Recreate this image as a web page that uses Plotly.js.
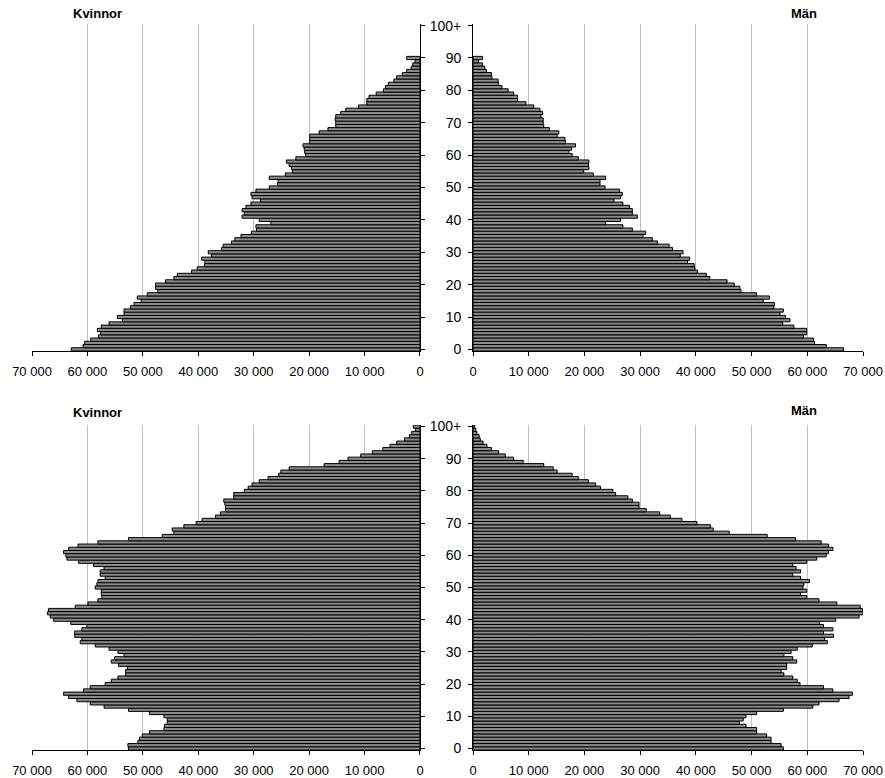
<!DOCTYPE html>
<html>
<head>
<meta charset="utf-8">
<script src="https://cdn.plot.ly/plotly-3.0.1.min.js"></script>
<style>
html,body{margin:0;padding:0;background:#fff;}
#chart{width:885px;height:778px;}
</style>
</head>
<body>
<div id="chart"></div>
<script>
// Ages (categories)
var agesTop = [0,1,2,3,4,5,6,7,8,9,10,11,12,13,14,15,16,17,18,19,20,21,22,23,24,25,26,27,28,29,30,31,32,33,34,35,36,37,38,39,40,41,42,43,44,45,46,47,48,49,50,51,52,53,54,55,56,57,58,59,60,61,62,63,64,65,66,67,68,69,70,71,72,73,74,75,76,77,78,79,80,81,82,83,84,85,86,87,88,89,90];
var agesBottom = [0,1,2,3,4,5,6,7,8,9,10,11,12,13,14,15,16,17,18,19,20,21,22,23,24,25,26,27,28,29,30,31,32,33,34,35,36,37,38,39,40,41,42,43,44,45,46,47,48,49,50,51,52,53,54,55,56,57,58,59,60,61,62,63,64,65,66,67,68,69,70,71,72,73,74,75,76,77,78,79,80,81,82,83,84,85,86,87,88,89,90,91,92,93,94,95,96,97,98,99,100];

// Top pyramid, ages 0..90
var topWomen = [62900,60800,60500,59400,58000,57600,58200,57500,56100,53700,
  54600,53400,53400,52200,51600,50300,51000,49200,47300,47700,
  47700,45900,44400,43800,41200,40200,38900,38800,39400,37600,
  38200,35800,35500,34000,33400,32300,30400,29500,29600,26900,
  29000,32100,31700,32100,31400,30500,28800,30300,30500,29600,
  27200,25700,25600,27200,24300,23000,23200,23600,24100,22400,
  20600,20800,20900,21100,19900,19900,19900,18200,16600,15200,
  15200,15300,15200,14300,13400,11100,9600,9600,9200,7900,
  6600,6200,5700,4700,4200,3200,2400,1600,1300,900,
  2400];
var topMen = [66500,63400,61300,61100,59300,59900,59900,57600,55600,56900,
  56100,55100,55700,54000,54100,52100,53200,50900,48100,47900,
  46900,45600,42500,41900,40300,39800,39700,38500,38900,37200,
  37700,35800,35200,33100,32200,30500,31000,28600,26900,23800,
  26500,29500,28600,28600,28100,26900,25300,26500,26800,26300,
  23700,22800,22800,23800,21600,19800,20800,20700,20800,18900,
  17800,17200,17700,18400,16600,16500,15100,15400,13700,12700,
  12600,12600,12200,12500,12000,10900,9500,8000,8000,7300,
  6300,5200,4600,4500,3400,3300,2400,2100,1700,1000,
  1700];

// Bottom pyramid, ages 0..100+
var bottomWomen = [52600,52700,50900,50600,50100,48800,46200,46100,45600,45600,
  46200,48800,52600,57000,59500,61900,63400,64300,60700,59500,
  56800,55700,54500,53100,53100,52800,54400,55700,55100,53400,
  54500,56100,58600,61300,61000,62300,62300,61000,60100,63000,
  66100,66700,67200,67000,62200,59900,58100,57400,57500,57500,
  58600,58300,58100,56800,57700,57700,57000,58900,61600,63700,
  63900,64300,63400,61700,58100,52600,46500,44400,44700,42600,
  40400,39300,36900,36000,35100,35100,35200,35400,33600,33600,
  31700,31000,30300,29000,27400,25500,25100,23600,17300,14600,
  13000,10700,8600,6700,5400,4200,2800,1900,1500,800,
  1200];
var bottomMen = [55700,55300,53500,53500,52700,50900,50900,49000,47800,48500,
  49000,50900,55700,61000,62100,65700,67500,68100,64600,62900,
  58700,58200,57400,55800,55300,56300,56300,58100,57400,55800,
  57100,58200,60900,63600,63100,64700,62900,64600,62900,62200,
  65100,69300,70000,69900,69500,65300,62100,59900,58800,59900,
  59200,59400,60400,58800,57400,58800,58000,57400,59900,61700,
  63400,63800,64600,63800,62500,57900,52800,46000,43100,42600,
  40200,37500,35400,33500,31100,29800,29800,28600,27800,25600,
  25100,22900,22000,20700,18900,17800,15100,14400,12700,9000,
  7300,5800,4600,3300,2500,1800,1300,1100,700,500,
  300];

var valueTicks = [0,10000,20000,30000,40000,50000,60000,70000];
var ageTickVals = [0,10,20,30,40,50,60,70,80,90,100];
var ageTickText = ["0","10","20","30","40","50","60","70","80","90","100+"];
var panelTitles = ["Kvinnor","Män"];

var FONT = "Liberation Sans, Arial, Helvetica, sans-serif";
var barFill = "#8a8a8a";

function barTrace(vals, ages, xa, ya){
  return {
    type: "bar", orientation: "h", x: vals, y: ages,
    xaxis: xa, yaxis: ya,
    marker: {color: barFill, line: {color: "#000", width: 1}},
    hoverinfo: "x+y"
  };
}

var data = [
  barTrace(topWomen, agesTop, "x", "y"),
  barTrace(topMen, agesTop, "x2", "y2"),
  barTrace(bottomWomen, agesBottom, "x3", "y3"),
  barTrace(bottomMen, agesBottom, "x4", "y4")
];

function xAxis(domain, anchor, reversed){
  return {
    domain: domain, anchor: anchor,
    range: reversed ? [70000, 0] : [0, 70000],
    tickvals: valueTicks, tickformat: ",d",
    showgrid: true, gridcolor: "#c0c0c0", gridwidth: 1,
    zeroline: false,
    showline: true, linecolor: "#000", linewidth: 1,
    ticks: "outside", ticklen: 4, tickcolor: "#000", tickwidth: 1,
    ticklabelstandoff: 4,
    tickfont: {family: FONT, size: 13, color: "#000"},
    fixedrange: true
  };
}
function yAxis(domain, anchor, side, labels){
  return {
    domain: domain, anchor: anchor, side: side,
    range: [-0.5, 100.5],
    tickvals: ageTickVals, ticktext: ageTickText,
    showticklabels: labels,
    showgrid: false, zeroline: false,
    showline: true, linecolor: "#000", linewidth: 1,
    ticks: "outside", ticklen: 4, tickcolor: "#000", tickwidth: 1,
    ticklabelstandoff: 4,
    tickfont: {family: FONT, size: 14, color: "#000"},
    fixedrange: true
  };
}

var L = [0, 0.4669], R = [0.5307, 1];
var T = [0.5496, 1], B = [0, 0.4477];

function title(text, x, y){
  return {text: "<b>" + text + "</b>", xref: "paper", yref: "paper", x: x, y: y,
    xanchor: "center", yanchor: "middle", showarrow: false,
    font: {family: FONT, size: 13, color: "#000"}};
}

var layout = {
  width: 885, height: 778,
  margin: {l: 32, r: 22, t: 24, b: 28},
  paper_bgcolor: "#fff", plot_bgcolor: "#fff",
  separators: ", ",
  showlegend: false,
  bargap: 0,
  font: {family: FONT, size: 13, color: "#000"},
  xaxis: xAxis(L, "y", true),
  yaxis: yAxis(T, "x", "right", false),
  xaxis2: xAxis(R, "y2", false),
  yaxis2: yAxis(T, "x2", "left", true),
  xaxis3: xAxis(L, "y3", true),
  yaxis3: yAxis(B, "x3", "right", false),
  xaxis4: xAxis(R, "y4", false),
  yaxis4: yAxis(B, "x4", "left", true),
  annotations: [
    title(panelTitles[0], 0.0794, 1.0138),
    title(panelTitles[1], 0.929, 1.0138),
    title(panelTitles[0], 0.0794, 0.4642),
    title(panelTitles[1], 0.929, 0.467)
  ]
};

Plotly.newPlot("chart", data, layout, {displayModeBar: false, staticPlot: true});
</script>
</body>
</html>
